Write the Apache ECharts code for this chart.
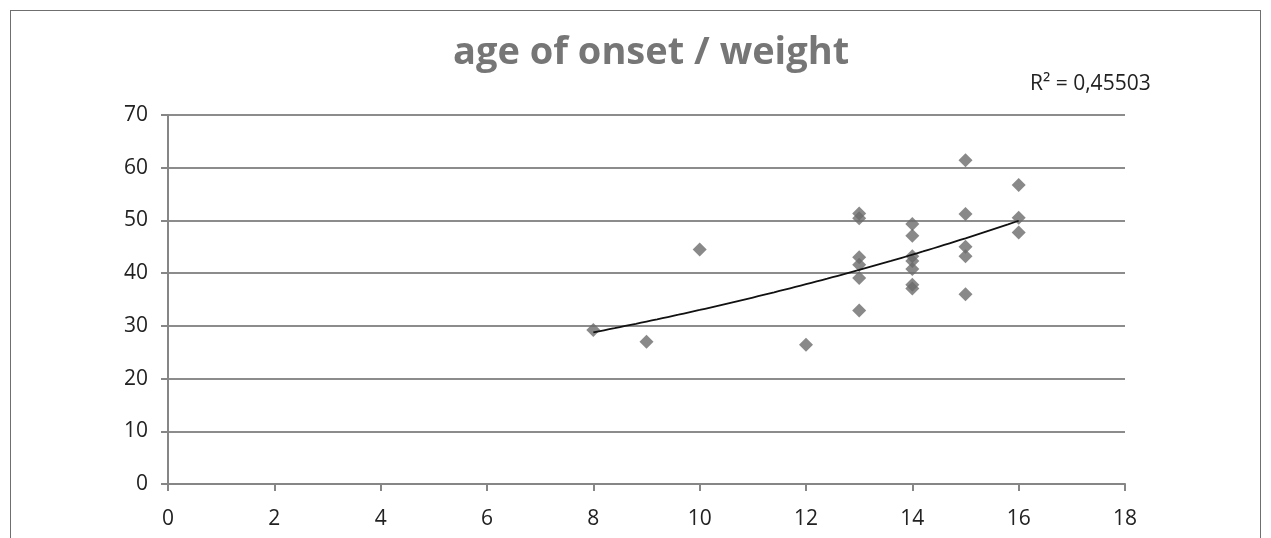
<!DOCTYPE html>
<html>
<head>
<meta charset="utf-8">
<script src="https://cdn.jsdelivr.net/npm/echarts@6/dist/echarts.min.js"></script>
<style>
  html, body { margin: 0; padding: 0; background: #fff; }
  #frame {
    position: absolute; left: 10px; top: 10px; width: 1251px; height: 540px;
    border: 1.5px solid #6f6f6f; box-sizing: border-box;
  }
  #chart { position: absolute; left: 0; top: 0; width: 1271px; height: 538px; }
</style>
</head>
<body>
<div id="frame"></div>
<div id="chart"></div>
<script>
// age of onset (x) vs weight (y)
const ageOfOnset = [8, 9, 10, 12,
  13, 13, 13, 13, 13, 13,
  14, 14, 14, 14, 14, 14, 14,
  15, 15, 15, 15, 15,
  16, 16, 16];
const weight = [29.2, 27.0, 44.5, 26.4,
  51.3, 50.4, 43.0, 41.6, 39.1, 32.9,
  49.3, 47.1, 43.2, 42.3, 40.8, 37.8, 37.1,
  61.4, 51.2, 45.0, 43.2, 36.0,
  56.7, 50.5, 47.7];
const xTicks = [0, 2, 4, 6, 8, 10, 12, 14, 16, 18];
const yTicks = [0, 10, 20, 30, 40, 50, 60, 70];
const titleText = 'age of onset / weight';
const r2Text = 'R² = 0,45503';

// exponential trend line (least squares on ln y), like the spreadsheet one
const expFit = (xs, ys) => {
  const n = xs.length;
  const ly = ys.map(v => Math.log(v));
  const mx = xs.reduce((a, b) => a + b, 0) / n;
  const my = ly.reduce((a, b) => a + b, 0) / n;
  let sxx = 0, sxy = 0;
  xs.forEach((x, i) => { sxx += (x - mx) * (x - mx); sxy += (x - mx) * (ly[i] - my); });
  const k = sxy / sxx;
  const a = Math.exp(my - k * mx);
  return x => a * Math.exp(k * x);
};
const fit = expFit(ageOfOnset, weight);
const xMin = Math.min(...ageOfOnset), xMax = Math.max(...ageOfOnset);
const trend = [];
for (let i = 0; i <= 40; i++) {
  const x = xMin + (xMax - xMin) * i / 40;
  trend.push([x, fit(x)]);
}

const chart = echarts.init(document.getElementById('chart'));
const axisGray = '#868686';
const labelFont = { fontFamily: 'Open Sans', fontSize: 21, color: '#222' };

chart.setOption({
  animation: false,
  title: {
    text: titleText,
    left: 448,
    top: 29,
    textStyle: { fontFamily: 'Open Sans', fontWeight: 'bold', fontSize: 38, color: '#767676' }
  },
  graphic: [{
    type: 'text',
    left: 1030,
    top: 74,
    style: { text: r2Text, fontFamily: 'Open Sans', fontSize: 21, fill: '#222' }
  }],
  grid: { left: 168, right: 146, top: 115, bottom: 54 },
  xAxis: {
    type: 'value',
    min: xTicks[0],
    max: xTicks[xTicks.length - 1],
    interval: 2,
    axisLine: { lineStyle: { color: axisGray, width: 2 } },
    axisTick: { show: true, length: 7, lineStyle: { color: axisGray, width: 2 } },
    axisLabel: Object.assign({ margin: 25 }, labelFont),
    splitLine: { show: false }
  },
  yAxis: {
    type: 'value',
    min: yTicks[0],
    max: yTicks[yTicks.length - 1],
    interval: 10,
    axisLine: { show: true, lineStyle: { color: axisGray, width: 2 } },
    axisTick: { show: true, length: 7, lineStyle: { color: axisGray, width: 2 } },
    axisLabel: Object.assign({ margin: 20 }, labelFont),
    splitLine: { show: true, lineStyle: { color: '#8c8c8c', width: 2 } }
  },
  series: [
    {
      type: 'scatter',
      symbol: 'diamond',
      symbolSize: 14,
      itemStyle: { color: '#6c6c6c' },
      data: ageOfOnset.map((x, i) => [x, weight[i]]),
      z: 3
    },
    {
      type: 'line',
      data: trend,
      showSymbol: false,
      smooth: true,
      lineStyle: { color: '#111', width: 1.8 },
      z: 4
    }
  ]
});
</script>
</body>
</html>
